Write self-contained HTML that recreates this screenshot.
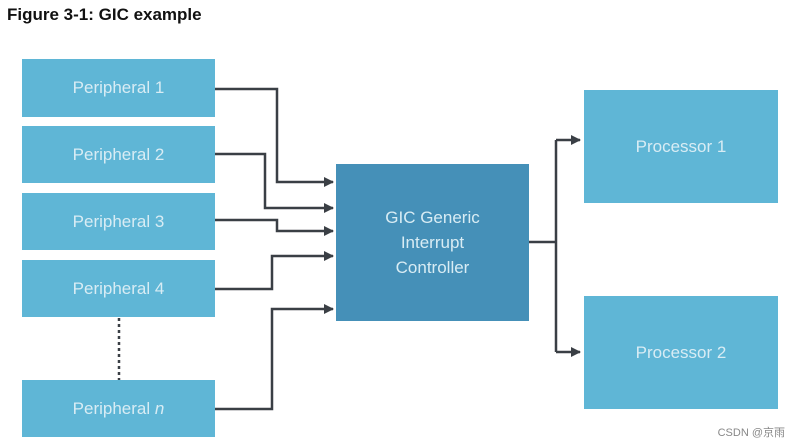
<!DOCTYPE html>
<html><head><meta charset="utf-8"><style>
body{margin:0;width:793px;height:446px;background:#fff;overflow:hidden;position:relative;font-family:"Liberation Sans",sans-serif}
.t{position:absolute;left:7px;top:5px;font-weight:bold;font-size:17px;color:#111}
.b{position:absolute;background:#5fb6d6;color:#d8ecf4;font-size:17px;display:flex;align-items:center;justify-content:center;text-align:center}
.g{background:#4590b8;line-height:25px}
.w{position:absolute;right:8px;top:424px;font-size:11px;color:#888;font-family:"Liberation Sans","Noto Sans CJK SC",sans-serif}
</style></head><body>
<div class="t">Figure 3-1: GIC example</div>
<div class="b" style="left:22px;top:59px;width:193px;height:58px">Peripheral 1</div>
<div class="b" style="left:22px;top:126px;width:193px;height:57px">Peripheral 2</div>
<div class="b" style="left:22px;top:193px;width:193px;height:57px">Peripheral 3</div>
<div class="b" style="left:22px;top:260px;width:193px;height:57px">Peripheral 4</div>
<div class="b" style="left:22px;top:380px;width:193px;height:57px">Peripheral&nbsp;<i>n</i></div>
<div class="b g" style="left:336px;top:164px;width:193px;height:157px">GIC Generic<br>Interrupt<br>Controller</div>
<div class="b" style="left:584px;top:90px;width:194px;height:113px">Processor 1</div>
<div class="b" style="left:584px;top:296px;width:194px;height:113px">Processor 2</div>
<svg width="793" height="446" style="position:absolute;left:0;top:0">
<defs><marker id="a" markerWidth="10" markerHeight="10" refX="9" refY="5" orient="auto" markerUnits="userSpaceOnUse"><path d="M0,0L10,5L0,10z" fill="#3a3f45"/></marker></defs>
<g fill="none" stroke="#3a3f45" stroke-width="2.5">
<path d="M215,89H277V182H333" marker-end="url(#a)"/>
<path d="M215,154H265V208H333" marker-end="url(#a)"/>
<path d="M215,220H277V231H333" marker-end="url(#a)"/>
<path d="M215,289H272V256H333" marker-end="url(#a)"/>
<path d="M215,409H272V309H333" marker-end="url(#a)"/>
<path d="M529,242H556"/>
<path d="M556,140V352"/>
<path d="M556,140H580" marker-end="url(#a)"/>
<path d="M556,352H580" marker-end="url(#a)"/>
<path d="M119,318V380" stroke-dasharray="3,3"/>
</g></svg>
<div class="w">CSDN @京雨</div>
</body></html>
